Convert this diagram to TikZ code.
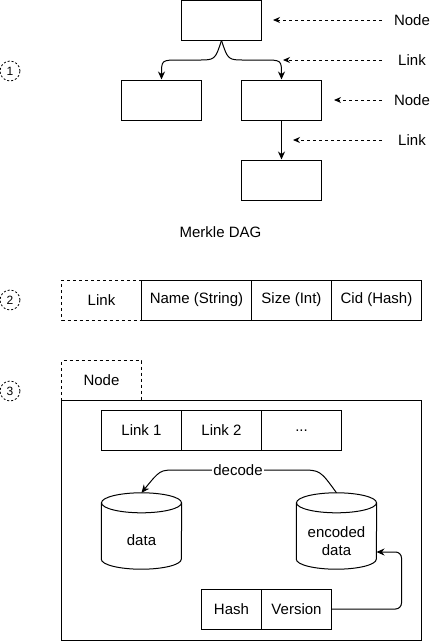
\documentclass[tikz,border=0pt]{standalone}
\usepackage{fontspec}
\setmainfont{Liberation Sans}
\usetikzlibrary{positioning,arrows.meta,calc}
\tikzset{
    every node/.style={font=\fontsize{15}{18}\selectfont},
    dagbox/.style={draw,line width=1pt,minimum width=80pt,minimum height=40pt,inner sep=0pt},
    cell/.style={draw,line width=1pt,minimum height=40pt,inner sep=0pt,outer sep=0pt},
    tabbox/.style={minimum width=80pt,minimum height=40pt,inner sep=0pt,outer sep=0pt},
    numcirc/.style={circle,draw,line width=0.8pt,dash pattern=on 2pt off 2pt,minimum size=20pt,inner sep=0pt,font=\fontsize{12}{14}\selectfont},
    hintlabel/.style={minimum width=60pt,inner sep=0pt},
    cylbox/.style={minimum width=80pt,minimum height=76pt,inner sep=0pt},
    dashline/.style={line width=1pt,dash pattern=on 3pt off 3pt},
    hint/.style={dashline,-{Stealth[length=7pt,width=6pt]}},
    link/.style={line width=1pt,-{Stealth[length=8pt,width=7pt]}}
}
\newcommand{\drawcyl}[1]{%
    \draw[line width=1pt] ([yshift=-10pt]#1.north) ellipse [x radius=40pt,y radius=10pt];
    \draw[line width=1pt] ([yshift=-10pt]#1.north west) -- ([yshift=10pt]#1.south west)
        arc[start angle=180,end angle=360,x radius=40pt,y radius=10pt] -- ([yshift=-10pt]#1.north east);
}

\begin{document}
\begin{tikzpicture}[x=1pt,y=1pt]
\useasboundingbox (0,0) rectangle (442,-641);
% 1: merkle dag
\node[numcirc] (c1) at (10,-71) {1};
\node[dagbox] (top) at (221.5,-20) {};
\node[dagbox] (left) at (161.5,-100) {};
\node[dagbox] (right) at (281.5,-100) {};
\node[dagbox] (bottom) at (281.5,-180) {};
\draw[link] (top.south) .. controls (215,-60) .. (198,-60) -- (180,-60) .. controls (161.5,-60) .. (left.north);
\draw[link] (top.south) .. controls (228,-60) .. (245,-60) -- (263,-60) .. controls (281.5,-60) .. (right.north);
\draw[link] (right) -- (bottom);
\node[hintlabel] (hn1) at (412,-20) {Node};
\node[hintlabel] (hl1) at (412,-60) {Link};
\node[hintlabel] (hn2) at (412,-100) {Node};
\node[hintlabel] (hl2) at (412,-140) {Link};
\coordinate (l1tip) at (283,-60);
\coordinate (l2tip) at (293,-140);
\draw[hint] (hn1.west) -- ([xshift=11pt]top.east);
\draw[hint] (hl1.west) -- (l1tip);
\draw[hint] (hn2.west) -- ([xshift=12pt]right.east);
\draw[hint] (hl2.west) -- (l2tip);
\node (cap) at (220.5,-232) {Merkle DAG};
% 2: link
\node[numcirc] (c2) at (10,-300) {2};
\node[tabbox] (lnk) at (101.5,-300) {Link};
\node[cell,minimum width=110pt,right=0pt of lnk] (name) {Name (String)};
\node[cell,minimum width=80pt,right=0pt of name] (size) {Size (Int)};
\node[cell,minimum width=90pt,right=0pt of size] (cid) {Cid (Hash)};
\draw[dashline] (lnk.north east) -- (lnk.north west) -- (lnk.south west) -- (lnk.south east);
% 3: node
\node[numcirc] (c3) at (10,-391) {3};
\node[draw,line width=1pt,minimum width=360pt,minimum height=240pt,inner sep=0pt,outer sep=0pt,anchor=north west] (nodebox) at (61.5,-400.5) {};
\node[tabbox,above right=0pt of nodebox.north west] (ntab) {Node};
\draw[dashline] (ntab.south west) -- (ntab.north west) -- (ntab.north east) -- (ntab.south east);
\node[cell,minimum width=80pt] (lk1) at (141.5,-430.5) {Link 1};
\node[cell,minimum width=80pt,right=0pt of lk1] (lk2) {Link 2};
\node[cell,minimum width=80pt,right=0pt of lk2] (lk3) {...};
\node[cylbox] (data) at (141.5,-531) {};
\node[cylbox] (enc) at (336.5,-531) {};
\drawcyl{data}
\drawcyl{enc}
\node (datatxt) at ([yshift=-9pt]data.center) {data};
\node[align=center] (enctxt) at ([yshift=-10pt]enc.center) {encoded\\data};
\draw[link] (enc.north) .. controls (320,-470) .. (300,-470) -- node[fill=white,inner sep=1pt] (dec) {decode} (176,-470) .. controls (160,-470) .. (data.north);
\node[cell,minimum width=60pt] (hash) at (231.5,-609) {Hash};
\node[cell,minimum width=70pt,right=0pt of hash] (ver) {Version};
\coordinate (encin) at (376.5,-552);
\draw[link,rounded corners=6pt] (ver.east) -- (401.5,-609) -- (401.5,-552) -- (encin);
\end{tikzpicture}
\end{document}
